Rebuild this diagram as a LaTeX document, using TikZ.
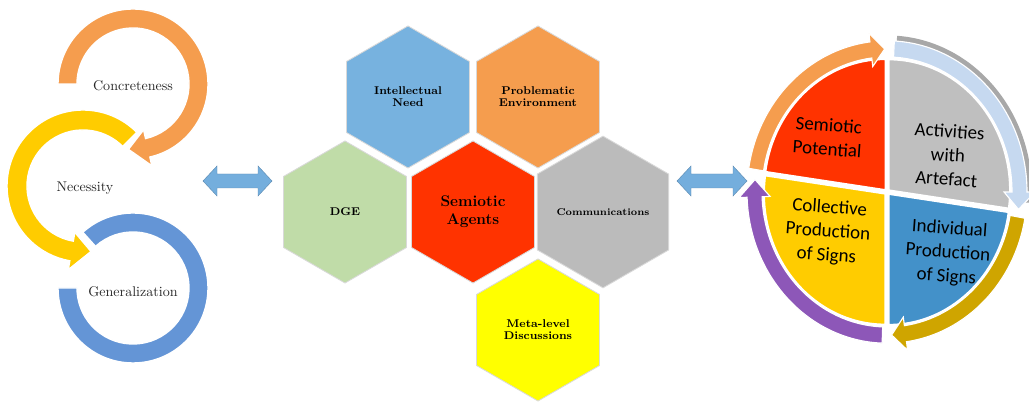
\documentclass[tikz,border=0pt]{standalone}
\usepackage{fontspec}
\usepackage{tikz}
\usetikzlibrary{calc}
\usetikzlibrary{shapes}
\newfontfamily\piefont{Carlito}

\definecolor{ringorange}{HTML}{F59D4E}
\definecolor{ringyellow}{HTML}{FFCC00}
\definecolor{ringblue}{HTML}{6495D6}
\definecolor{linkblue}{HTML}{74AEDD}
\definecolor{hexblue}{HTML}{77B2DF}
\definecolor{hexorange}{HTML}{F59D4E}
\definecolor{hexgreen}{HTML}{C0DCA8}
\definecolor{hexred}{HTML}{FF3300}
\definecolor{hexgrey}{HTML}{BBBBBB}
\definecolor{hexyellow}{HTML}{FFFF00}
\definecolor{piered}{HTML}{FF3300}
\definecolor{piegrey}{HTML}{BFBFBF}
\definecolor{pieblue}{HTML}{4391C9}
\definecolor{pieyellow}{HTML}{FFCC00}
\definecolor{arrorange}{HTML}{F59D4E}
\definecolor{arrlight}{HTML}{C6D9F0}
\definecolor{arrgold}{HTML}{CFA500}
\definecolor{arrpurple}{HTML}{8D57B8}
\definecolor{rimgrey}{HTML}{A8A8A8}

\begin{document}
\begin{tikzpicture}[x=0.025cm, y=0.025cm,
        ring_style/.style={draw=white, line width=1pt},
        ring_label/.style={font=\fontsize{10}{12}\selectfont, text=black!85},
        link_style/.style={fill=linkblue, draw=linkblue!80!black, line width=0.3pt},
        hex_style/.style={regular polygon, regular polygon sides=6, shape border rotate=30, minimum size=3.55cm, inner sep=0pt, draw=black!15, line width=0.6pt, align=center, font=\fontsize{8}{8.5}\selectfont\bfseries},
        quad_style/.style={draw=white, line width=1.2pt},
        band_style/.style={draw=white, line width=0.8pt},
        quad_label/.style={font=\piefont\fontsize{13.5}{17}\selectfont, align=center, rotate=-4}]

        \useasboundingbox (0,0) rectangle (1029,405);

        \coordinate (oc) at (133,321);
        \coordinate (yc) at (83,219);
        \coordinate (bc) at (133,117);

        \fill[ringblue, ring_style] ($(bc)+(180:75)$) arc[start angle=180, end angle=492, radius=75] -- ($(bc)+(492:56)$) arc[start angle=492, end angle=180, radius=56] -- cycle;

        \fill[ringyellow, ring_style] ($(yc)+(45:76)$) arc[start angle=45, end angle=260, radius=76] -- ($(yc)+(260:85)$) -- ($(yc)+(277:66)$) -- ($(yc)+(260:47)$) -- ($(yc)+(260:56)$) arc[start angle=260, end angle=45, radius=56] -- cycle;

        \fill[ringorange, ring_style] ($(oc)+(180:75)$) arc[start angle=180, end angle=-77, radius=75] -- ($(oc)+(-77:84)$) -- ($(oc)+(-94:65.5)$) -- ($(oc)+(-77:47)$) -- ($(oc)+(-77:56)$) arc[start angle=-77, end angle=180, radius=56] -- cycle;

        \node [ring_label] (concrete) at (133,319) {Concreteness};

        \node [ring_label] (necessity) at (85,217) {Necessity};

        \node [ring_label] (general) at (133,113) {Generalization};

        \fill[link_style] (203,224) -- (217,239) -- (217,231) -- (258,231) -- (258,239) -- (272,224) -- (258,209) -- (258,217) -- (217,217) -- (217,209) -- cycle;

        \fill[link_style] (677,224) -- (691,239) -- (691,231) -- (733,231) -- (733,239) -- (747,224) -- (733,209) -- (733,217) -- (691,217) -- (691,209) -- cycle;

        \node [hex_style, fill=hexblue] (need) at (408,308) {Intellectual\\Need};

        \node [hex_style, fill=hexorange] (env) at (538,308) {Problematic\\Environment};

        \node [hex_style, fill=hexgreen] (dge) at (345,193) {DGE};

        \node [hex_style, fill=hexred, font=\fontsize{11}{13}\selectfont\bfseries] (agents) at (473,193) {Semiotic\\Agents};

        \node [hex_style, fill=hexgrey, font=\fontsize{7}{8}\selectfont\bfseries] (comm) at (603,193) {Communications};

        \node [hex_style, fill=hexyellow] (meta) at (538,75) {Meta-level\\Discussions};

        \begin{scope}[shift={(887,213)}, yscale=1.08]
        \fill[piered, quad_style] (131:2.5) -- ++(90:121) arc[start angle=90, end angle=172, radius=121] -- cycle;
        \fill[piegrey, quad_style] (41:2.5) -- ++(-8:121) arc[start angle=-8, end angle=90, radius=121] -- cycle;
        \fill[pieblue, quad_style] (311:2.5) -- ++(270:121) arc[start angle=270, end angle=352, radius=121] -- cycle;
        \fill[pieyellow, quad_style] (221:2.5) -- ++(172:121) arc[start angle=172, end angle=270, radius=121] -- cycle;
        \fill[rimgrey] (86:138) arc[start angle=86, end angle=-4, radius=138] -- (-4:145) arc[start angle=-4, end angle=86, radius=145] -- cycle;
        \fill[arrorange, band_style] (171:140) arc[start angle=171, end angle=97, radius=140] -- (97:148) -- (91:132.5) -- (97:117) -- (97:125) arc[start angle=97, end angle=171, radius=125] -- cycle;
        \fill[arrlight, band_style] (87:140) arc[start angle=87, end angle=0, radius=140] -- (0:148) -- (-7:132.5) -- (0:117) -- (0:125) arc[start angle=0, end angle=87, radius=125] -- cycle;
        \fill[arrgold, band_style] (-10:140) arc[start angle=-10, end angle=-82, radius=140] -- (-82:148) -- (-88:132.5) -- (-82:117) -- (-82:125) arc[start angle=-82, end angle=-10, radius=125] -- cycle;
        \fill[arrpurple, band_style] (268:140) arc[start angle=268, end angle=182, radius=140] -- (182:148) -- (175:132.5) -- (182:117) -- (182:125) arc[start angle=182, end angle=268, radius=125] -- cycle;
        \end{scope}

        \node [quad_label] (potential) at (828,268) {Semiotic\\Potential};

        \node [quad_label] (artefact) at (948,250) {Activities\\with\\Artefact};

        \node [quad_label] (collective) at (828,173) {Collective\\Production\\of Signs};

        \node [quad_label] (individual) at (948,152) {Individual\\Production\\of Signs};

        \end{tikzpicture}
\end{document}
